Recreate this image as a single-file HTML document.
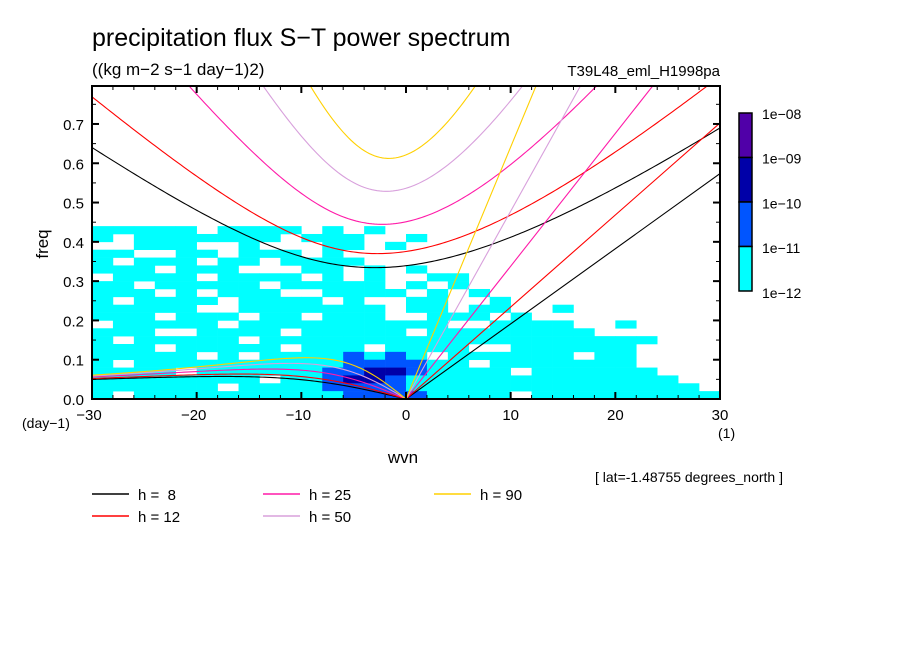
<!DOCTYPE html>
<html><head><meta charset="utf-8">
<style>
body{margin:0;background:#fff;}
svg text{font-family:"Liberation Sans",sans-serif;fill:#000;}
</style></head>
<body>
<svg id="chart" width="904" height="654" viewBox="0 0 904 654" xmlns="http://www.w3.org/2000/svg">
<rect width="904" height="654" fill="#fff"/>
<text x="92" y="46" font-size="25">precipitation flux S−T power spectrum</text>
<text x="92" y="75" font-size="17">((kg m−2 s−1 day−1)2)</text>
<text x="720" y="76" font-size="15" text-anchor="end">T39L48_eml_H1998pa</text>
<g id="heat"></g>
<g id="curves"></g>
<g id="axes"></g>
<text x="48" y="244" font-size="17" transform="rotate(-90 48 244)" text-anchor="middle">freq</text>
<text x="22" y="428" font-size="14">(day−1)</text>
<text x="718" y="438" font-size="14">(1)</text>
<text x="403" y="463" font-size="17" text-anchor="middle">wvn</text>
<text x="595" y="482" font-size="14">[ lat=-1.48755 degrees_north ]</text>
<g id="cbar"></g>
<g id="legend"></g>
</svg>
<script>
const NS="http://www.w3.org/2000/svg";
// data
const heightsH=[8,12,25,50,90];
const heightColors=["#000000","#ff0000","#ff1aa8","#d8a0dc","#ffd000"];
const levelLabels=["1e-08","1e-09","1e-10","1e-11","1e-12"];
const levelColors=["#ffffff","#00ffff","#0055ff","#0000a8","#5000a8"];
const xTicks=[-30,-20,-10,0,10,20,30];
const yTicks=[0.0,0.1,0.2,0.3,0.4,0.5,0.6,0.7];
// spectrum level grid: rows top (0.42-0.44) to bottom (0-0.02), columns 2-wvn wide from -30
const specRows=[
"11111.1111.1.1................",
"1.1111111.111..1..............",
"..111..1...11.1...............",
"11..11.111.1..................",
"1.111.11.1111.................",
"111.111...11.1.1..............",
".1111.1111.1.1..11............",
"11.11111.11111.1.1............",
"111.1.111..1111.1.1...........",
"1.1111.1111.1..11..1..........",
"11111..1111111.11.11..1.......",
"111.111.11.111..111.1.........",
".11111.1111111111..1111..1....",
"111..1111.11111.11111111......",
"1.11111.1111111111111111111...",
"111.11111.111.1111..111111....",
"11111.1.11112121.111111.11....",
"1.1111111111222211.1111111....",
"1111.111111223321111.111111...",
"11111111.1123321111111111111..",
"111111.1111222211111111111111.",
"1.111111111122221111.111111111"
];
const X0=92,X1=720,Y0=399,YT=86;
const xs=k=>X0+(k+30)/60*(X1-X0);
const ys=f=>Y0-f*392.9;
function el(t,a,p){const e=document.createElementNS(NS,t);for(const k in a)e.setAttribute(k,a[k]);(p||document.getElementById('chart')).appendChild(e);return e;}

// heatmap
const heat=document.getElementById('heat');
specRows.forEach((row,ri)=>{
  const r=(row+'..............................').slice(0,30);
  const f1=0.44-ri*0.02,f0=f1-0.02;
  for(let c=0;c<30;c++){
    const lv=+r[c]||0; if(!lv) continue;
    const k0=-30+2*c;
    const e=el('rect',{x:xs(k0),y:ys(f1),width:xs(k0+2)-xs(k0)+0.3,height:ys(f0)-ys(f1)+0.3,fill:levelColors[lv]},heat);
    
    
  }
});

// dispersion curves
const g=9.81,beta=2.29e-11,a=6.371e6,conv=86400/(2*Math.PI);
function roots(k,c){
  const A=c*c*k*k+3*beta*c,B=beta*c*c*k;
  const m=2*Math.sqrt(A/3);
  const th=Math.acos(Math.max(-1,Math.min(1,3*B/(A*m))))/3;
  return [0,1,2].map(j=>m*Math.cos(th-2*Math.PI*j/3));
}
const curves=document.getElementById('curves');
const clip=el('clipPath',{id:'pc'},curves);el('rect',{x:X0,y:YT,width:X1-X0,height:Y0-YT},clip);
heightsH.forEach((h,i)=>{
  const c=Math.sqrt(g*h);
  let ig=[],ro=[],kv=[];
  for(let s=-30;s<=30.001;s+=0.25){
    const k=s/a;const r=roots(k,c).filter(v=>v>0).sort((p,q)=>q-p);
    ig.push([xs(s),ys(r[0]*conv)]);
    if(s<=0){const sm=r.length>1?r[r.length-1]:0;ro.push([xs(s),ys(s===0?0:sm*conv)]);}
  }
  kv=[[xs(0),ys(0)],[xs(30),ys(c*30/a*conv)]];
  [[ig,'ig'],[ro,'rossby'],[kv,'kelvin']].forEach(([pts,nm])=>{
    const p=el('polyline',{points:pts.map(q=>q.join(',')).join(' '),fill:'none',stroke:heightColors[i],'stroke-width':1.1,'clip-path':'url(#pc)'},curves);
    
    
  });
});

// axes
const ax=document.getElementById('axes');
el('rect',{x:X0,y:YT,width:X1-X0,height:Y0-YT,fill:'none',stroke:'#000','stroke-width':2},ax);
for(let k=-30;k<=30;k+=2){const maj=k%10===0;const L=maj?7:4;
  el('line',{x1:xs(k),x2:xs(k),y1:Y0,y2:Y0-L,stroke:'#000','stroke-width':maj?2:1},ax);
  el('line',{x1:xs(k),x2:xs(k),y1:YT,y2:YT+L,stroke:'#000','stroke-width':maj?2:1},ax);}
for(let j=0;j<=15;j++){const f=j*0.05;const maj=j%2===0;const L=maj?7:4;
  el('line',{x1:X0,x2:X0+L,y1:ys(f),y2:ys(f),stroke:'#000','stroke-width':maj?2:1},ax);
  el('line',{x1:X1,x2:X1-L,y1:ys(f),y2:ys(f),stroke:'#000','stroke-width':maj?2:1},ax);}
xTicks.forEach(k=>{const t=el('text',{x:xs(k)-(k<0?3:0),y:420,'font-size':15,'text-anchor':'middle'},ax);t.textContent=(k<0?'−':'')+Math.abs(k);
  
  });
yTicks.forEach(f=>{const t=el('text',{x:84,y:ys(f)+6,'font-size':15,'text-anchor':'end'},ax);t.textContent=f.toFixed(1);
  
  });

// colorbar
const cb=document.getElementById('cbar');
for(let i=0;i<4;i++){
  const r=el('rect',{x:739,y:113+i*44.5,width:13,height:44.5,fill:levelColors[4-i],stroke:'#000','stroke-width':1.5},cb);
  
  
}
levelLabels.forEach((l,i)=>{const t=el('text',{x:762,y:119+i*44.7,'font-size':14},cb);t.textContent=l.replace('-','−');
  
  });

// legend
const lg=document.getElementById('legend');
const lpos=[[92,494],[92,516],[263,494],[263,516],[434,494]];
heightsH.forEach((h,i)=>{const [x,y]=lpos[i];
  const ln=el('line',{x1:x,x2:x+37,y1:y,y2:y,stroke:heightColors[i],'stroke-width':1.5},lg);
  
  
  const t=el('text',{x:x+46,y:y+6,'font-size':15},lg);
  t.setAttribute('style','white-space:pre');
  t.textContent='h = '+(h<10?' ':'')+h;
  
  });
</script>
</body></html>
